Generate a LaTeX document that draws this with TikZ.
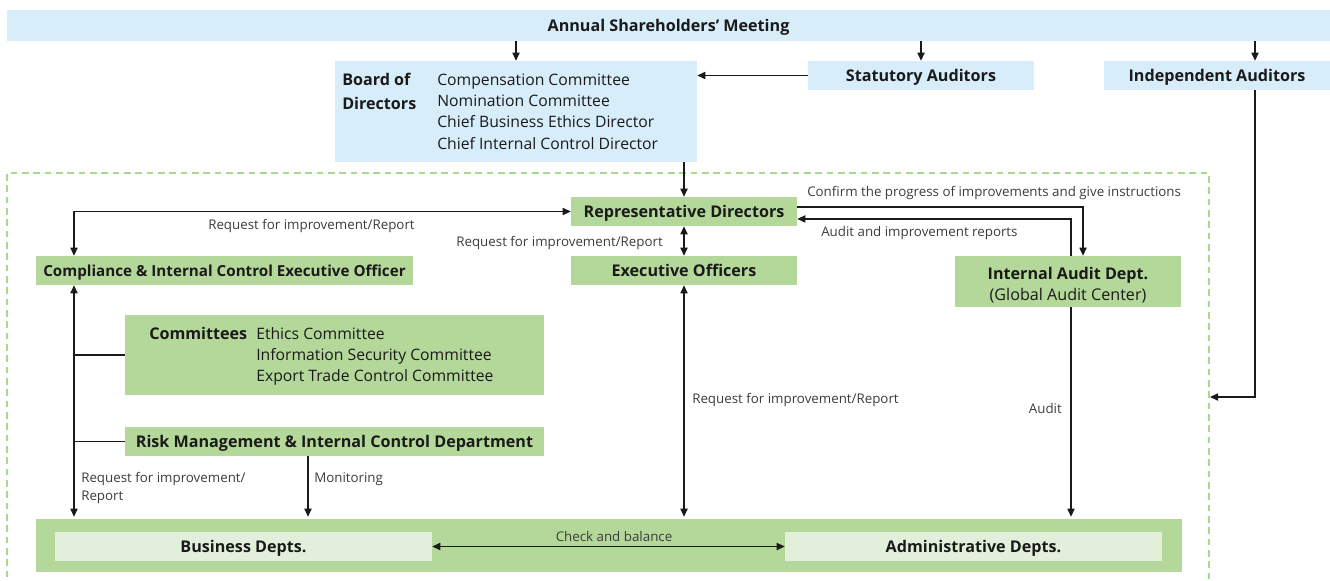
\documentclass[tikz,border=0pt]{standalone}
\usepackage{fontspec}
\setmainfont{Open Sans}
\usetikzlibrary{arrows.meta,calc}
\definecolor{lblue}{HTML}{D7EEFA}
\definecolor{mgreen}{HTML}{B4D89A}
\definecolor{pgreen}{HTML}{E2EFDA}
\definecolor{dgreen}{HTML}{A8D98C}
\definecolor{ink}{HTML}{1A1A1A}
\def\u{0.75pt}
\tikzset{
  boxshape/.style={draw=none, inner sep=0pt, text=ink, font=\fontsize{12.1pt}{14pt}\selectfont\bfseries},
  box/.style={boxshape, text height=0.95em, text depth=0pt},
  bluebox/.style={box, fill=lblue},
  greenbox/.style={box, fill=mgreen},
  paleb/.style={box, fill=pgreen},
  lbl/.style={inner sep=0pt, text=ink!85, font=\fontsize{10pt}{12pt}\selectfont},
  listtxt/.style={inner sep=0pt, text=ink, font=\fontsize{11.8pt}{16pt}\selectfont, align=left},
  conn/.style={draw=ink, line width=0.8pt},
  arr/.style={conn, -{Triangle[length=6pt,width=5.4pt]}},
  arrr/.style={conn, {Triangle[length=6pt,width=5.4pt]}-{Triangle[length=6pt,width=5.4pt]}},
}
\begin{document}
\begin{tikzpicture}[x=0.75pt,y=-0.75pt]
\useasboundingbox (0,0) rectangle (1330,581);
% dashed frame
\draw[dgreen, line width=0.8pt, dash pattern=on 5pt off 3.5pt] (7,600) -- (7,173) -- (1209,173) -- (1209,600);
% boxes
\node[bluebox, minimum width=1323*\u, minimum height=31*\u] (annual) at (668.5,25.5) {Annual Shareholders’ Meeting};
\node[bluebox, minimum width=362*\u, minimum height=101*\u] (board) at (516,111.5) {};
\node[listtxt, font=\fontsize{12.1pt}{18pt}\selectfont\bfseries, anchor=north west] (boardt) at (342,73) {Board of\\Directors};
\node[listtxt, anchor=north west] (boardl) at (437,73.5) {Compensation Committee\\Nomination Committee\\Chief Business Ethics Director\\Chief Internal Control Director};
\node[bluebox, minimum width=226*\u, minimum height=29*\u] (stat) at (921,75.5) {Statutory Auditors};
\node[bluebox, minimum width=226*\u, minimum height=29*\u] (indep) at (1217,75.5) {Independent Auditors};
\node[greenbox, minimum width=226*\u, minimum height=29*\u] (rep) at (684,211.5) {Representative Directors};
\node[greenbox, minimum width=226*\u, minimum height=29*\u] (exec) at (684,270.5) {Executive Officers};
\node[greenbox, minimum width=377*\u, minimum height=29*\u, font=\fontsize{11.4pt}{14pt}\selectfont\bfseries] (comp) at (224.5,270.5) {Compliance \& Internal Control Executive Officer};
\node[greenbox, minimum width=226*\u, minimum height=51*\u] (iad) at (1068,281.5) {};
\node[boxshape, align=center, font=\fontsize{12.1pt}{15.75pt}\selectfont\bfseries] (iadt) at (1068,285) {Internal Audit Dept.\\{\mdseries (Global Audit Center)}};
\node[greenbox, minimum width=419*\u, minimum height=80*\u] (cmte) at (334.5,355) {};
\node[listtxt, font=\fontsize{12.1pt}{16pt}\selectfont\bfseries, anchor=north west] (cmtet) at (149,327) {Committees};
\node[listtxt, anchor=north west] (cmtel) at (256,327) {Ethics Committee\\Information Security Committee\\Export Trade Control Committee};
\node[greenbox, minimum width=419*\u, minimum height=29*\u] (risk) at (334.5,441.5) {Risk Management \& Internal Control Department};
\node[greenbox, minimum width=1146*\u, minimum height=53*\u] (big) at (609,545.5) {};
\node[paleb, minimum width=377*\u, minimum height=29*\u] (bus) at (243.5,546.5) {Business Depts.};
\node[paleb, minimum width=377*\u, minimum height=29*\u] (adm) at (973.5,546.5) {Administrative Depts.};
% helper x coordinates
\coordinate (xi) at (1255,0);
\coordinate (xc) at (74,0);
\coordinate (xa) at (1083,0);
\coordinate (xb) at (1071,0);
\coordinate (xm) at (308,0);
\coordinate (dr) at (1210,397);
% connectors
\draw[arr] (annual.south -| board.north) -- (board.north);
\draw[arr] (annual.south -| stat.north) -- (stat.north);
\draw[arr] (annual.south -| xi) -- (indep.north -| xi);
\draw[arr] (stat.west) -- (board.east |- stat.west);
\draw[arr] (indep.south -| xi) |- (dr);
\draw[arr] (board.south -| rep.north) -- (rep.north);
\draw[arrr] (rep.west) -| (comp.north -| xc);
\draw[arrr] (rep.south) -- (exec.north);
\draw[arr] ([yshift=3.4pt]rep.east) -| (iad.north -| xa);
\draw[arr] (iad.north -| xb) |- ([yshift=-5.6pt]rep.east);
\draw[arr] (iad.south -| xb) -- ([yshift=1.5pt]big.north -| xb);
\draw[arrr] (exec.south) -- ([yshift=1.5pt]big.north -| exec.south);
\draw[arrr] (comp.south -| xc) -- ([yshift=1.5pt]big.north -| xc);
\draw[conn] (cmte.west) -- (cmte.west -| xc);
\draw[conn] (risk.west) -- (risk.west -| xc);
\draw[arr] (risk.south -| xm) -- ([yshift=1.5pt]big.north -| xm);
\draw[arrr] (bus.east) -- (adm.west);
% labels
\node[lbl, anchor=west] (l1) at (208,225.5) {Request for improvement/Report};
\node[lbl, anchor=east] (l2) at (663,242.5) {Request for improvement/Report};
\node[lbl, anchor=west] (l3) at (807,193.5) {Confirm the progress of improvements and give instructions};
\node[lbl, anchor=west] (l4) at (821,233.5) {Audit and improvement reports};
\node[lbl, anchor=west] (l5) at (692,399.5) {Request for improvement/Report};
\node[lbl, anchor=east] (l6) at (1062,408.5) {Audit};
\node[lbl, anchor=west, align=left, font=\fontsize{10pt}{12.8pt}\selectfont] (l7) at (81,488) {Request for improvement/\\Report};
\node[lbl, anchor=west] (l8) at (314,479.5) {Monitoring};
\node[lbl] (l9) at (614,536.5) {Check and balance};
\end{tikzpicture}
\end{document}
